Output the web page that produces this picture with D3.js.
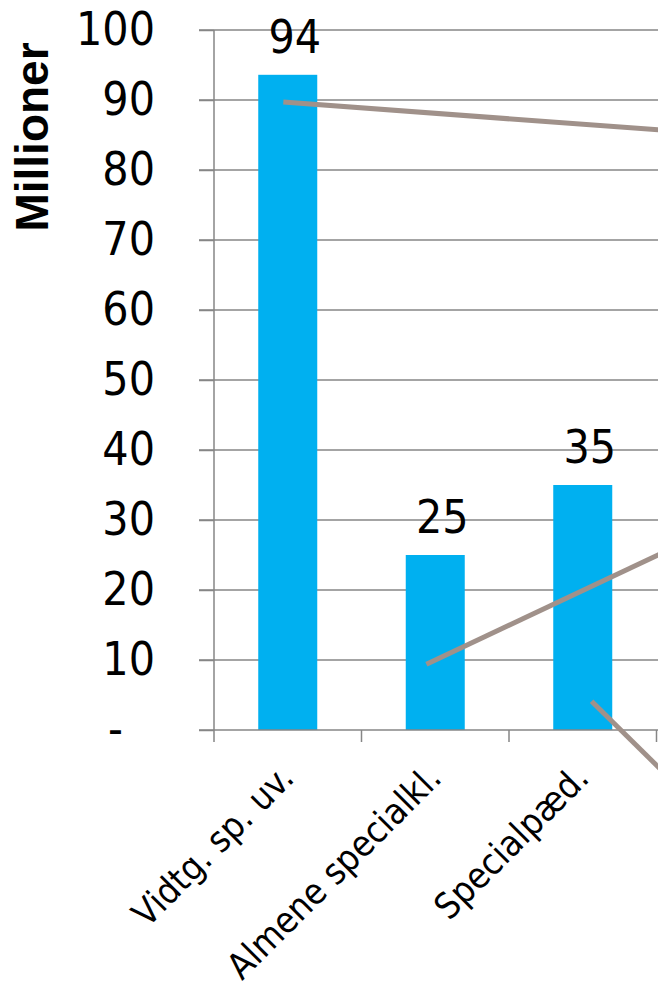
<!DOCTYPE html>
<html>
<head>
<meta charset="utf-8">
<script src="https://cdn.jsdelivr.net/npm/d3@7"></script>
<style>
  html, body { margin: 0; padding: 0; background: #fff; }
  svg { display: block; }
  text { font-family: "DejaVu Sans Condensed", "Liberation Sans", sans-serif; fill: #000; }
</style>
</head>
<body>
<div id="chart"></div>
<script>
// data
var categories = ['Vidtg. sp. uv.', 'Almene specialkl.', 'Specialpæd.'];
var values = [93.6, 25, 35];
var valueLabels = ['94', '25', '35'];
var yTicks = [0, 10, 20, 30, 40, 50, 60, 70, 80, 90, 100];
// grey leader lines, x in category index units, y in Millioner
var leaderLines = [
    [[-0.03, 89.7], [2.6, 85.6]],
    [[0.94, 9.4], [2.6, 25.9]],
    [[2.06, 4.1], [2.6, -7.1]]
];

var width = 658, height = 985;
var margin = {top: 30, left: 214, bottom: 255};

var svg = d3.select('#chart').append('svg')
    .attr('width', width)
    .attr('height', height);

var y = d3.scaleLinear().domain([0, 100]).range([height - margin.bottom, margin.top]);
var x = d3.scaleBand().domain(categories)
    .range([margin.left, 656.5])
    .paddingInner(0.6).paddingOuter(0.3);
var xi = d3.scaleLinear().domain([0, 1])
    .range([x(categories[0]) + x.bandwidth() / 2, x(categories[1]) + x.bandwidth() / 2]);

var gridColor = '#868686';

// gridlines
svg.append('g').selectAll('line')
    .data(yTicks.filter(function (d) { return d > 0; }))
    .enter().append('line')
    .attr('x1', margin.left - 15).attr('x2', width)
    .attr('y1', function (d) { return y(d); })
    .attr('y2', function (d) { return y(d); })
    .attr('stroke', gridColor).attr('stroke-width', 1.5);

// bars
svg.append('g').selectAll('rect')
    .data(values)
    .enter().append('rect')
    .attr('x', function (d, i) { return x(categories[i]); })
    .attr('width', x.bandwidth())
    .attr('y', function (d) { return y(d); })
    .attr('height', function (d) { return y(0) - y(d); })
    .attr('fill', '#00B0F0');

// y axis
var yAxis = d3.axisLeft(y).tickValues(yTicks)
    .tickSize(15).tickPadding(44)
    .tickFormat(function (d) { return d === 0 ? '-' : d; });
var gy = svg.append('g').attr('transform', 'translate(' + margin.left + ',0)').call(yAxis);
gy.select('.domain').attr('stroke', gridColor).attr('stroke-width', 1.5)
    .attr('d', 'M0,' + y(100) + 'V' + y(0));
gy.selectAll('.tick line').attr('stroke', gridColor).attr('stroke-width', 1.5);
gy.selectAll('.tick text')
    .style('font-size', '46px')
    .attr('dx', function (d) { return d === 0 ? -32 : 0; });

// x axis
var gx = svg.append('g').attr('transform', 'translate(0,' + y(0) + ')');
gx.append('line')
    .attr('x1', margin.left - 15).attr('x2', width)
    .attr('stroke', gridColor).attr('stroke-width', 1.5);
var bounds = categories.map(function (c) { return x(c) - x.step() * x.paddingInner() / 2; });
bounds.push(x(categories[categories.length - 1]) + x.bandwidth() + x.step() * x.paddingInner() / 2);
gx.selectAll('line.tk').data(bounds).enter().append('line')
    .attr('class', 'tk')
    .attr('x1', function (d) { return d; }).attr('x2', function (d) { return d; })
    .attr('y1', 0).attr('y2', 12)
    .attr('stroke', gridColor).attr('stroke-width', 1.5);
gx.selectAll('text').data(categories).enter().append('text')
    .attr('text-anchor', 'end')
    .style('font-size', '36px')
    .attr('transform', function (d) {
        return 'translate(' + (x(d) + x.bandwidth() / 2 + 8) + ',50) rotate(-45)';
    })
    .text(function (d) { return d; });

// value labels
svg.append('g').selectAll('text')
    .data(values)
    .enter().append('text')
    .attr('text-anchor', 'middle')
    .style('font-size', '46px')
    .attr('x', function (d, i) { return x(categories[i]) + x.bandwidth() / 2 + 7; })
    .attr('y', function (d) { return y(d) - 22; })
    .text(function (d, i) { return valueLabels[i]; });

// leader lines
var line = d3.line()
    .x(function (d) { return xi(d[0]); })
    .y(function (d) { return y(d[1]); });
svg.append('g').selectAll('path')
    .data(leaderLines)
    .enter().append('path')
    .attr('d', line)
    .attr('fill', 'none')
    .attr('stroke', '#A0918A')
    .attr('stroke-width', 5);

// y title
svg.append('text')
    .attr('transform', 'translate(48,137) rotate(-90)')
    .attr('text-anchor', 'middle')
    .style('font-size', '46px')
    .style('font-weight', 'bold')
    .style('font-family', '"Liberation Sans", sans-serif')
    .text('Millioner');
</script>
</body>
</html>
